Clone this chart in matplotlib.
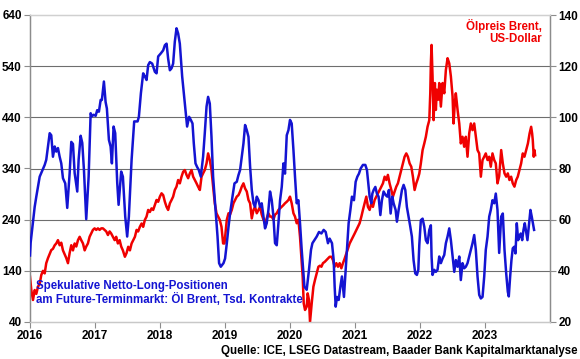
import matplotlib
matplotlib.use('Agg')
import matplotlib.pyplot as plt

# ---- data (decimal years) ----
blue_t = [2016.000, 2016.010, 2016.072, 2016.097, 2016.149, 2016.226, 2016.250, 2016.303, 2016.327, 2016.353,
          2016.380, 2016.404, 2016.430, 2016.456, 2016.481, 2016.507, 2016.542, 2016.573, 2016.610, 2016.635,
          2016.661, 2016.687, 2016.727, 2016.748, 2016.779, 2016.804, 2016.830, 2016.865, 2016.902, 2016.933,
          2016.953, 2016.979, 2017.010, 2017.034, 2017.060, 2017.087, 2017.106, 2017.137, 2017.163, 2017.183,
          2017.214, 2017.240, 2017.260, 2017.286, 2017.311, 2017.342, 2017.363, 2017.403, 2017.429, 2017.465,
          2017.495, 2017.521, 2017.563, 2017.603, 2017.655, 2017.675, 2017.706, 2017.741, 2017.767, 2017.793,
          2017.818, 2017.844, 2017.880, 2017.921, 2017.947, 2017.972, 2018.013, 2018.049, 2018.075, 2018.101,
          2018.125, 2018.152, 2018.178, 2018.202, 2018.228, 2018.254, 2018.279, 2018.305, 2018.341, 2018.382,
          2018.417, 2018.448, 2018.474, 2018.500, 2018.520, 2018.546, 2018.571, 2018.597, 2018.628, 2018.663,
          2018.689, 2018.716, 2018.740, 2018.766, 2018.792, 2018.817, 2018.854, 2018.885, 2018.909, 2018.935,
          2018.977, 2019.001, 2019.028, 2019.054, 2019.078, 2019.115, 2019.146, 2019.181, 2019.207, 2019.232,
          2019.258, 2019.284, 2019.309, 2019.335, 2019.361, 2019.386, 2019.412, 2019.438, 2019.462, 2019.489,
          2019.515, 2019.539, 2019.565, 2019.592, 2019.616, 2019.642, 2019.668, 2019.693, 2019.719, 2019.745,
          2019.770, 2019.796, 2019.822, 2019.847, 2019.873, 2019.899, 2019.923, 2019.950, 2019.976, 2020.000,
          2020.026, 2020.053, 2020.077, 2020.103, 2020.129, 2020.154, 2020.180, 2020.222, 2020.257, 2020.292,
          2020.323, 2020.345, 2020.375, 2020.411, 2020.446, 2020.483, 2020.518, 2020.549, 2020.584, 2020.610,
          2020.646, 2020.672, 2020.687, 2020.703, 2020.723, 2020.749, 2020.775, 2020.799, 2020.830, 2020.856,
          2020.876, 2020.902, 2020.929, 2020.953, 2020.984, 2021.010, 2021.036, 2021.061, 2021.087, 2021.122,
          2021.159, 2021.184, 2021.205, 2021.225, 2021.251, 2021.267, 2021.287, 2021.313, 2021.337, 2021.363,
          2021.390, 2021.414, 2021.440, 2021.471, 2021.497, 2021.522, 2021.548, 2021.574, 2021.594, 2021.625,
          2021.645, 2021.671, 2021.697, 2021.722, 2021.748, 2021.774, 2021.798, 2021.824, 2021.851, 2021.875,
          2021.901, 2021.927, 2021.952, 2021.974, 2021.989, 2022.013, 2022.040, 2022.066, 2022.090, 2022.116,
          2022.143, 2022.167, 2022.178, 2022.193, 2022.219, 2022.244, 2022.270, 2022.296, 2022.321, 2022.347,
          2022.373, 2022.398, 2022.424, 2022.450, 2022.475, 2022.501, 2022.527, 2022.551, 2022.578, 2022.604,
          2022.628, 2022.654, 2022.680, 2022.705, 2022.731, 2022.757, 2022.782, 2022.808, 2022.834, 2022.859,
          2022.885, 2022.911, 2022.936, 2022.962, 2022.988, 2023.012, 2023.039, 2023.065, 2023.089, 2023.115,
          2023.142, 2023.166, 2023.192, 2023.218, 2023.249, 2023.274, 2023.300, 2023.326, 2023.351, 2023.366,
          2023.387, 2023.407, 2023.427, 2023.449, 2023.469, 2023.489, 2023.510, 2023.530, 2023.550, 2023.572,
          2023.592, 2023.612, 2023.633, 2023.653, 2023.673, 2023.699, 2023.719, 2023.755]
blue_v = [170, 195, 265, 285, 324, 347, 357, 409, 405, 363,
          383, 373, 380, 363, 350, 321, 311, 263, 331, 392,
          388, 331, 295, 357, 404, 390, 337, 241, 324, 448,
          442, 445, 443, 454, 451, 474, 474, 510, 470, 457,
          396, 383, 350, 422, 409, 312, 269, 334, 324, 246,
          207, 246, 357, 432, 432, 441, 487, 526, 520, 513,
          542, 548, 545, 529, 526, 559, 565, 571, 581, 584,
          555, 532, 536, 545, 588, 614, 604, 584, 520, 467,
          422, 441, 435, 428, 389, 350, 343, 337, 324, 363,
          409, 461, 480, 467, 402, 324, 259, 207, 155, 148,
          155, 164, 194, 226, 252, 285, 311, 314, 327, 337,
          363, 389, 425, 415, 402, 344, 298, 272, 265, 285,
          278, 265, 272, 246, 223, 233, 259, 295, 278, 246,
          194, 190, 233, 278, 304, 350, 330, 405, 415, 435,
          428, 376, 324, 272, 278, 233, 181, 109, 103, 142,
          181, 194, 200, 207, 216, 213, 220, 216, 194, 203,
          194, 161, 109, 70, 89, 83, 109, 129, 89, 142,
          181, 233, 259, 285, 278, 314, 324, 330, 340, 347,
          347, 337, 311, 285, 272, 291, 298, 304, 291, 285,
          249, 278, 295, 288, 285, 298, 252, 285, 272, 259,
          236, 259, 278, 298, 308, 298, 265, 246, 226, 207,
          161, 135, 132, 142, 190, 239, 242, 226, 200, 194,
          220, 229, 168, 132, 142, 138, 142, 168, 155, 164,
          171, 194, 207, 223, 200, 168, 138, 161, 148, 168,
          122, 155, 145, 148, 155, 168, 181, 194, 210, 181,
          129, 93, 86, 89, 129, 181, 207, 246, 259, 278,
          272, 291, 259, 175, 246, 252, 181, 135, 99, 90,
          129, 161, 184, 187, 174, 233, 200, 207, 213, 200,
          220, 233, 216, 200, 226, 259, 246, 220]

red_t = [2016.000, 2016.020, 2016.046, 2016.072, 2016.097, 2016.123, 2016.149, 2016.174, 2016.200, 2016.226,
         2016.250, 2016.277, 2016.303, 2016.327, 2016.353, 2016.380, 2016.404, 2016.430, 2016.456, 2016.481,
         2016.507, 2016.533, 2016.558, 2016.584, 2016.610, 2016.635, 2016.661, 2016.687, 2016.712, 2016.738,
         2016.764, 2016.788, 2016.815, 2016.841, 2016.865, 2016.891, 2016.917, 2016.942, 2016.968, 2016.994,
         2017.019, 2017.045, 2017.071, 2017.096, 2017.122, 2017.148, 2017.173, 2017.199, 2017.225, 2017.249,
         2017.276, 2017.302, 2017.326, 2017.352, 2017.379, 2017.403, 2017.429, 2017.460, 2017.486, 2017.511,
         2017.537, 2017.563, 2017.588, 2017.614, 2017.640, 2017.664, 2017.690, 2017.717, 2017.741, 2017.767,
         2017.793, 2017.818, 2017.844, 2017.870, 2017.895, 2017.921, 2017.947, 2017.972, 2017.998, 2018.024,
         2018.049, 2018.075, 2018.101, 2018.125, 2018.152, 2018.178, 2018.202, 2018.228, 2018.254, 2018.279,
         2018.305, 2018.331, 2018.356, 2018.382, 2018.408, 2018.433, 2018.459, 2018.485, 2018.510, 2018.536,
         2018.562, 2018.586, 2018.613, 2018.639, 2018.663, 2018.689, 2018.716, 2018.740, 2018.766, 2018.792,
         2018.817, 2018.843, 2018.869, 2018.894, 2018.920, 2018.946, 2018.971, 2018.992, 2019.012, 2019.028,
         2019.054, 2019.078, 2019.104, 2019.130, 2019.155, 2019.181, 2019.207, 2019.232, 2019.258, 2019.284,
         2019.309, 2019.335, 2019.361, 2019.386, 2019.412, 2019.438, 2019.462, 2019.489, 2019.515, 2019.539,
         2019.565, 2019.592, 2019.616, 2019.642, 2019.668, 2019.693, 2019.719, 2019.745, 2019.770, 2019.796,
         2019.822, 2019.847, 2019.873, 2019.899, 2019.923, 2019.950, 2019.976, 2020.000, 2020.026, 2020.053,
         2020.077, 2020.103, 2020.129, 2020.154, 2020.180, 2020.195, 2020.211, 2020.231, 2020.257, 2020.272,
         2020.292, 2020.308, 2020.334, 2020.360, 2020.384, 2020.411, 2020.437, 2020.461, 2020.483, 2020.507,
         2020.534, 2020.560, 2020.584, 2020.610, 2020.637, 2020.661, 2020.687, 2020.713, 2020.738, 2020.764,
         2020.790, 2020.815, 2020.841, 2020.867, 2020.892, 2020.918, 2020.944, 2020.969, 2020.995, 2021.021,
         2021.045, 2021.071, 2021.098, 2021.122, 2021.148, 2021.174, 2021.199, 2021.225, 2021.251, 2021.276,
         2021.302, 2021.328, 2021.353, 2021.379, 2021.405, 2021.430, 2021.456, 2021.482, 2021.506, 2021.532,
         2021.559, 2021.583, 2021.609, 2021.635, 2021.660, 2021.686, 2021.712, 2021.737, 2021.763, 2021.789,
         2021.814, 2021.840, 2021.866, 2021.891, 2021.917, 2021.943, 2021.967, 2021.989, 2022.013, 2022.040,
         2022.066, 2022.090, 2022.116, 2022.143, 2022.158, 2022.167, 2022.178, 2022.193, 2022.209, 2022.229,
         2022.244, 2022.259, 2022.281, 2022.296, 2022.321, 2022.347, 2022.373, 2022.398, 2022.424, 2022.450,
         2022.475, 2022.501, 2022.516, 2022.536, 2022.551, 2022.578, 2022.604, 2022.628, 2022.654, 2022.680,
         2022.705, 2022.731, 2022.757, 2022.782, 2022.808, 2022.834, 2022.859, 2022.885, 2022.911, 2022.936,
         2022.962, 2022.988, 2023.012, 2023.039, 2023.065, 2023.089, 2023.115, 2023.142, 2023.166, 2023.192,
         2023.218, 2023.249, 2023.274, 2023.300, 2023.326, 2023.351, 2023.376, 2023.402, 2023.427, 2023.453,
         2023.480, 2023.504, 2023.530, 2023.556, 2023.581, 2023.607, 2023.633, 2023.660, 2023.686, 2023.710,
         2023.725, 2023.735, 2023.750, 2023.761, 2023.771]
red_v = [37.7, 32.5, 28.6, 32.5, 31.0, 33.8, 35.0, 38.4, 40.0, 39.0,
         43.0, 45.0, 46.6, 48.1, 48.6, 50.0, 50.7, 52.0, 50.0, 51.0,
         48.0, 46.5, 45.0, 43.0, 47.0, 50.0, 48.0, 50.7, 49.5, 52.0,
         53.3, 52.0, 50.7, 48.0, 49.5, 50.7, 53.3, 54.6, 56.0, 56.6,
         56.0, 56.6, 56.0, 56.6, 56.6, 56.0, 55.4, 54.0, 55.4, 54.6,
         53.3, 52.0, 53.3, 50.7, 52.0, 49.5, 48.0, 45.5, 47.0, 49.4,
         48.0, 50.7, 52.0, 53.3, 56.0, 55.4, 57.2, 58.5, 57.2, 59.9,
         61.2, 63.8, 63.0, 64.4, 63.8, 65.7, 67.7, 67.0, 69.0, 70.3,
         69.6, 67.0, 65.0, 63.8, 66.4, 67.7, 69.0, 71.6, 72.9, 75.5,
         74.2, 76.8, 78.7, 79.4, 77.5, 76.2, 78.1, 79.4, 76.8, 75.5,
         74.2, 72.9, 71.6, 76.8, 78.1, 79.4, 82.0, 85.9, 83.3, 79.4,
         72.9, 66.4, 62.5, 61.2, 59.9, 57.2, 50.7, 50.7, 56.0, 60.0,
         62.5, 62.0, 63.8, 66.4, 67.7, 69.0, 69.6, 71.0, 72.9, 74.2,
         72.2, 71.0, 67.7, 66.4, 60.5, 63.8, 65.0, 62.5, 63.8, 65.0,
         62.0, 60.0, 58.6, 60.5, 62.5, 61.2, 61.2, 60.0, 62.0, 62.5,
         63.8, 64.4, 65.0, 65.7, 66.4, 67.0, 67.7, 69.0, 66.4, 62.5,
         61.2, 58.6, 60.0, 53.3, 43.0, 37.7, 27.3, 24.7, 26.0, 31.2,
         28.6, 20.0, 27.3, 33.8, 36.4, 39.0, 41.6, 42.0, 41.6, 43.0,
         43.5, 44.2, 44.8, 45.5, 45.5, 44.2, 41.6, 43.0, 41.6, 43.0,
         41.0, 43.0, 44.8, 46.8, 48.8, 50.7, 52.0, 53.3, 54.6, 56.0,
         57.2, 58.6, 61.2, 63.8, 66.4, 69.0, 65.0, 63.8, 66.4, 65.0,
         67.7, 69.0, 70.3, 71.6, 72.9, 74.2, 76.8, 75.5, 77.5, 74.2,
         71.6, 69.0, 71.0, 72.9, 74.2, 76.8, 79.4, 82.0, 84.6, 85.9,
         84.6, 82.0, 80.7, 76.8, 71.6, 74.2, 76.0, 78.0, 82.0, 87.2,
         89.8, 92.4, 96.3, 98.9, 109.4, 121.1, 128.3, 116.0, 98.9, 113.4,
         102.9, 110.8, 106.9, 113.4, 104.2, 113.4, 109.4, 118.5, 123.1, 121.1,
         116.0, 108.2, 97.6, 105.6, 109.4, 102.9, 97.6, 89.8, 92.4, 88.5,
         92.4, 84.6, 93.7, 97.6, 95.0, 97.6, 92.4, 87.2, 85.9, 76.8,
         83.3, 84.6, 85.9, 83.3, 84.6, 80.7, 85.9, 83.3, 82.0, 74.2,
         77.0, 87.2, 82.0, 78.1, 76.8, 78.1, 75.5, 76.8, 74.2, 72.9,
         75.5, 76.8, 79.4, 82.0, 85.9, 84.6, 87.2, 89.8, 93.7, 96.3,
         93.7, 91.1, 84.6, 87.2, 85.2]

x_ticks = [2016, 2017, 2018, 2019, 2020, 2021, 2022, 2023]
x_tick_labels = ['2016', '2017', '2018', '2019', '2020', '2021', '2022', '2023']
left_ticks = [40, 140, 240, 340, 440, 540, 640]
right_ticks = [20, 40, 60, 80, 100, 120, 140]

blue_label = 'Spekulative Netto-Long-Positionen\nam Future-Terminmarkt: Öl Brent, Tsd. Kontrakte'
red_label = 'Ölpreis Brent,\nUS-Dollar'
source = 'Quelle: ICE, LSEG Datastream, Baader Bank Kapitalmarktanalyse'

BLUE = '#1414D2'
RED = '#F00000'
FONT = 'Liberation Sans'

plt.rcParams['font.family'] = [FONT, 'DejaVu Sans']
plt.rcParams['font.weight'] = 'bold'

fig = plt.figure(figsize=(5.8, 3.59), dpi=100)
ax = fig.add_axes([30 / 580, 1 - 322 / 359, 520 / 580, 307 / 359])
ax2 = ax.twinx()
# blue series (left axis) drawn on top of red series
ax.set_zorder(ax2.get_zorder() + 1)
ax.patch.set_visible(False)

ax.plot(blue_t, blue_v, color=BLUE, lw=1.8, solid_joinstyle='round', zorder=3)
ax2.plot(red_t, red_v, color=RED, lw=1.8, solid_joinstyle='round', zorder=3)

ax.set_xlim(2016, 2024)
ax.set_ylim(40, 640)
ax2.set_ylim(20, 140)
ax.set_yticks(left_ticks)
ax.set_yticklabels([str(v) for v in left_ticks])
ax2.set_yticks(right_ticks)
ax2.set_yticklabels([str(v) for v in right_ticks])
ax.set_xticks(x_ticks)
ax.set_xticklabels(x_tick_labels)

for a in (ax, ax2):
    a.tick_params(axis='both', direction='out', length=4, width=0.8, color='#8c8c8c',
                  labelsize=8.5, pad=2)
    for s in a.spines.values():
        s.set_color('#8c8c8c')
        s.set_linewidth(0.9)
    a.spines['top'].set_color('#d0d0d0')
    a.spines['bottom'].set_color('#c8c8c8')
for lab in ax.get_xticklabels() + ax.get_yticklabels() + ax2.get_yticklabels():
    lab.set_fontweight('bold')

ax2.grid(False)
ax.grid(axis='y', color='#6e6e6e', lw=0.8)
ax.set_axisbelow(True)
# keep gridlines behind both series: draw them on the lower (red) axes instead
ax.grid(False)
for v in left_ticks[1:-1]:
    ax2.axhline(20 + (v - 40) / 5, color='#6e6e6e', lw=0.8, zorder=1)

ax.text(0.012, 0.095, blue_label, transform=ax.transAxes, color=BLUE, fontsize=8.3,
        fontweight='bold', ha='left', va='center', linespacing=1.05, zorder=5)
ax.text(0.985, 0.945, red_label, transform=ax.transAxes, color=RED, fontsize=8.3,
        fontweight='bold', ha='right', va='center', linespacing=1.05, zorder=5)
fig.text(0.995, 0.022, source, ha='right', va='center', fontsize=8.3, fontweight='bold', color='black')

fig.savefig('out.png', dpi=100)
